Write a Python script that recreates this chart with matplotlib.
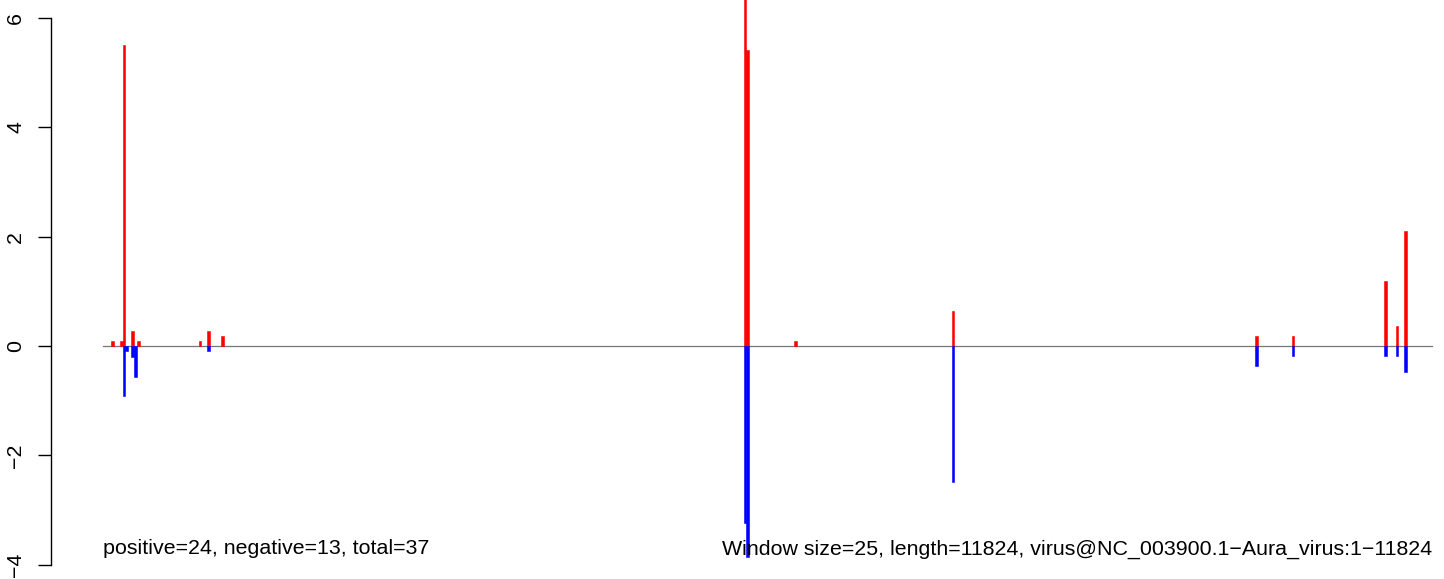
import numpy as np
import matplotlib
matplotlib.use('Agg')
import matplotlib.pyplot as plt

plt.rcParams['font.family'] = ['Liberation Sans', 'DejaVu Sans']

genome_len = 11824
window = 25

# window start positions and scores
pos_start = [75, 150, 175, 250, 300, 850, 925, 1050, 5700, 5725, 6150, 7550,
             10250, 10575, 11400, 11500, 11575]
pos_value = [0.09, 0.09, 5.5, 0.27, 0.09, 0.09, 0.27, 0.18, 7.0, 5.41, 0.09, 0.64,
             0.19, 0.19, 1.19, 0.37, 2.10]

neg_start = [175, 200, 250, 275, 925, 5700, 5725, 7550, 10250, 10575, 11400, 11500, 11575]
neg_value = [-0.92, -0.09, -0.2, -0.57, -0.1, -3.23, -3.86, -2.48, -0.37, -0.19, -0.19,
             -0.19, -0.47]

yticks = [-4, -2, 0, 2, 4, 6]
left_note = 'positive=24, negative=13, total=37'
right_note = 'Window size=25, length=11824, virus@NC_003900.1\u2212Aura_virus:1\u221211824'

W, H = 1444, 579
fig = plt.figure(figsize=(W/100, H/100), dpi=100)
ax = fig.add_axes([51/W, 0, (1440-51)/W, 1])

# pixel mapping: x=0 -> 103px, x=11824 -> 1432px ; y=0 -> 346px, 54.7 px/unit
sx = 1329/genome_len
ax.set_xlim(-(103-51)/sx, (1440-103)/sx)
ax.set_ylim(-(H-346)/54.7, 346/54.7)

ax.plot([0, genome_len], [0, 0], color='#777777', lw=0.9, zorder=1)
ax.bar(pos_start, pos_value, width=window, align='edge', color='red',
       edgecolor='red', linewidth=0.4, zorder=2)
ax.bar(neg_start, neg_value, width=window, align='edge', color='blue',
       edgecolor='blue', linewidth=0.4, zorder=2)

for s in ['top', 'right', 'bottom']:
    ax.spines[s].set_visible(False)
ax.spines['left'].set_bounds(-4, 6)
ax.spines['left'].set_linewidth(1.0)
ax.set_xticks([])
ax.set_yticks(yticks)
ax.set_yticklabels([str(t).replace('-', '\u2212') for t in yticks], rotation=90, va='center')
ax.tick_params(axis='y', length=9.5, width=1.0, pad=9, labelsize=15.4)

ax.text(0, -3.71, left_note, ha='left', va='center', fontsize=15.4)
ax.text(genome_len, -3.71, right_note, ha='right', va='center', fontsize=15.4)

fig.savefig('out.png', dpi=100)
